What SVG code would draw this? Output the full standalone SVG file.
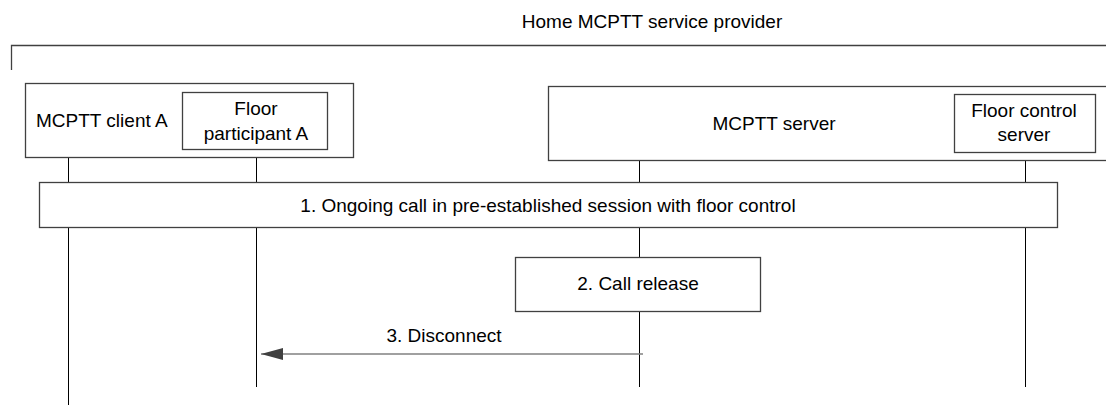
<svg xmlns="http://www.w3.org/2000/svg" width="1106" height="405" viewBox="0 0 1106 405">
<defs>
<style>
text{font-family:"Liberation Sans",Arial,sans-serif;font-size:19px;fill:#000}
.box{fill:#fff;stroke:#404040;stroke-width:1.3}
.life{stroke:#000;stroke-width:1;fill:none}
.msg{stroke:#808080;stroke-width:1.5;fill:none}
.mid{text-anchor:middle}
</style>
<marker id="ah" markerWidth="22" markerHeight="12" refX="22" refY="6" orient="auto" markerUnits="userSpaceOnUse">
<path d="M0,0 L22,6 L0,12 Z" fill="#404040"/>
</marker>
</defs>
<rect width="1106" height="405" fill="#fff"/>
<g id="provider">
<path d="M11.5,70 V45.5 H1106" fill="none" stroke="#404040" stroke-width="1.3"/>
<text class="mid" x="652" y="28">Home MCPTT service provider</text>
</g>
<g id="lifelines">
<line class="life" x1="68.5" y1="157" x2="68.5" y2="405"/>
<line class="life" x1="256.5" y1="149" x2="256.5" y2="387"/>
<line class="life" x1="639.5" y1="161" x2="639.5" y2="387"/>
<line class="life" x1="1025.5" y1="152" x2="1025.5" y2="387"/>
</g>
<g id="clientA">
<rect class="box" x="25.5" y="83.5" width="328" height="74"/>
<text x="36" y="127">MCPTT client A</text>
</g>
<g id="floorParticipantA">
<rect class="box" x="182.5" y="92.5" width="145" height="57"/>
<text class="mid" x="256" y="115">Floor</text>
<text class="mid" x="256" y="140">participant A</text>
</g>
<g id="server">
<rect class="box" x="548.5" y="86.5" width="570" height="74"/>
<text class="mid" x="774" y="130">MCPTT server</text>
</g>
<g id="floorControlServer">
<rect class="box" x="954.5" y="94.5" width="141" height="58"/>
<text class="mid" x="1024" y="117">Floor control</text>
<text class="mid" x="1024" y="141">server</text>
</g>
<g id="step1">
<rect class="box" x="39.5" y="182.5" width="1018" height="45"/>
<text class="mid" x="548" y="212">1. Ongoing call in pre-established session with floor control</text>
</g>
<g id="step2">
<rect class="box" x="515.5" y="257.5" width="245" height="54"/>
<text class="mid" x="638" y="290">2. Call release</text>
</g>
<g id="connectors">
<line class="msg" x1="643" y1="354" x2="261" y2="354" marker-end="url(#ah)"/>
<text class="mid" x="444" y="342">3. Disconnect</text>
</g>
</svg>
